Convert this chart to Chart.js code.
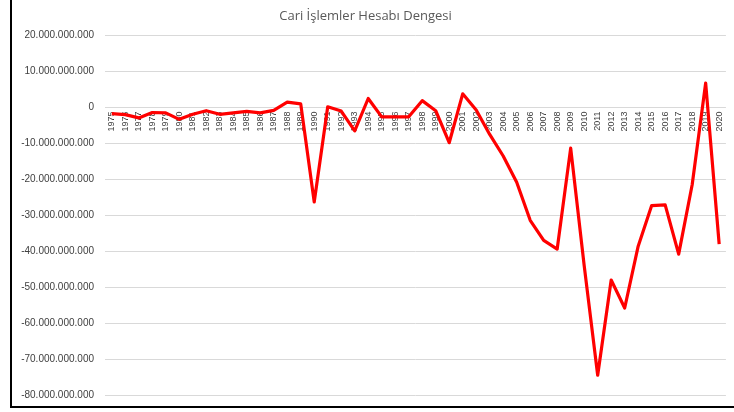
<!DOCTYPE html>
<html>
<head>
<meta charset="utf-8">
<script src="https://cdn.jsdelivr.net/npm/chart.js@4"></script>
<style>
    body { margin: 0; background: #fff; }
    #wrap { position: relative; width: 734px; height: 412px; }
    #frame {
        position: absolute; left: 10px; top: 0; width: 722px; height: 406px;
        border-left: 2px solid #000; border-bottom: 2px solid #000;
        pointer-events: none;
    }
</style>
</head>
<body>
<div id="wrap">
    <canvas id="myChart" width="734" height="412"></canvas>
    <div id="frame"></div>
</div>
<script>
// Yillar
const years = [];
for (let y = 1975; y <= 2020; y++) years.push(String(y));

// Cari denge (milyar $)
const balance = [
    -1.7, -2.0, -2.9, -1.4, -1.5, -3.3, -1.9, -0.9, -1.9, -1.5,
    -1.1, -1.5, -0.8, 1.5, 1.0, -26.3, 0.2, -1.0, -6.5, 2.5,
    -2.6, -2.6, -2.6, 1.9, -0.9, -9.8, 3.8, -0.7, -7.5, -13.5,
    -20.8, -31.4, -37.0, -39.4, -11.3, -44.0, -74.5, -48.0, -55.8, -38.6,
    -27.3, -27.1, -40.8, -21.5, 6.8, -38.0
];

const yMin = -80;
const yMax = 20;
const yStep = 10;

function formatTick(v) {
    const n = Math.round(Math.abs(v) * 1e9);
    const s = String(n).replace(/\B(?=(\d{3})+(?!\d))/g, '.');
    return (v < 0 ? '-' : '') + s;
}

document.addEventListener('DOMContentLoaded', function() {
    const ctx = document.getElementById('myChart');

    new Chart(ctx, {
        type: 'line',
        data: {
            labels: years,
            datasets: [{
                label: 'Cari İşlemler Hesabı Dengesi',
                data: balance,
                borderColor: '#ff0000',
                borderWidth: 3.2,
                borderJoinStyle: 'round',
                pointRadius: 0,
                tension: 0,
                fill: false
            }]
        },
        options: {
            responsive: false,
            animation: false,
            layout: {
                padding: { left: 0, right: 3, top: 0, bottom: 5 }
            },
            plugins: {
                legend: { display: false },
                tooltip: { enabled: false },
                title: {
                    display: true,
                    text: 'Cari İşlemler Hesabı Dengesi',
                    color: '#595959',
                    font: { family: 'Open Sans', size: 13, weight: 'normal' },
                    padding: { top: 8, bottom: 12 }
                }
            },
            scales: {
                x: {
                    position: { y: 0 },
                    offset: true,
                    grid: { display: false, drawTicks: false },
                    border: { display: false },
                    ticks: {
                        autoSkip: false,
                        minRotation: 90,
                        maxRotation: 90,
                        padding: 4,
                        color: '#404040',
                        font: { family: 'Liberation Sans', size: 9 }
                    },
                    afterFit: function(scale) { scale.height = 0; }
                },
                y: {
                    min: yMin,
                    max: yMax,
                    ticks: {
                        stepSize: yStep,
                        padding: 11,
                        color: '#404040',
                        font: { family: 'Liberation Sans', size: 10 },
                        callback: function(v) { return formatTick(v); }
                    },
                    grid: { color: '#d9d9d9', lineWidth: 1, drawTicks: false },
                    border: { display: false },
                    afterFit: function(scale) { scale.width = 105; }
                }
            }
        }
    });
});
</script>
</body>
</html>
